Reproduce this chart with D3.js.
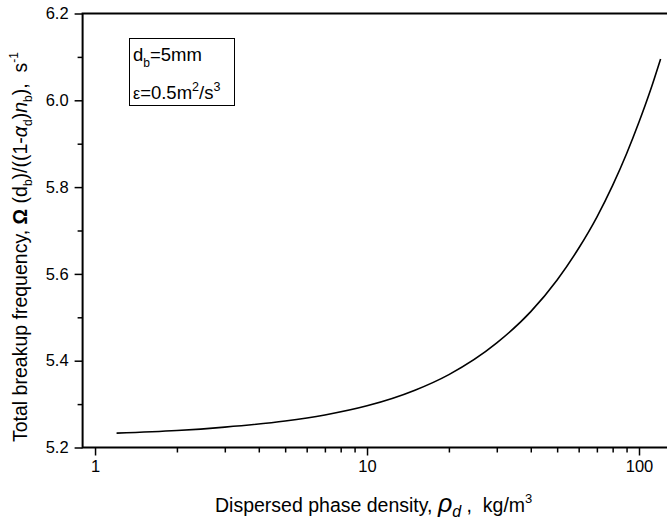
<!DOCTYPE html>
<html>
<head>
<meta charset="utf-8">
<script src="https://cdn.jsdelivr.net/npm/d3@7"></script>
<style>
  body { margin: 0; background: #fff; }
  text { font-family: "Liberation Sans", Arial, sans-serif; fill: #000; }
</style>
</head>
<body>
<script>
// values
var density = [1.2, 2, 3, 5, 7, 10, 15, 20, 30, 40, 50, 60, 70, 80, 90, 100, 110, 120];
var frequency = [5.233, 5.239, 5.247, 5.261, 5.275, 5.296, 5.332, 5.368, 5.441, 5.513,
                 5.586, 5.659, 5.731, 5.804, 5.877, 5.950, 6.022, 6.095];
var yTicks = [5.2, 5.4, 5.6, 5.8, 6.0, 6.2];
var yMinor = [5.3, 5.5, 5.7, 5.9, 6.1];
var xTicks = [1, 10, 100];
var xMinor = [2, 3, 4, 5, 6, 7, 8, 9, 20, 30, 40, 50, 60, 70, 80, 90];

var w = 667,
    h = 523;

var svg = d3.select("body")
    .append("svg")
    .attr("width", w)
    .attr("height", h);

var x = d3.scaleLog()
    .domain([0.9, 150])
    .range([82.6, 686.9]);

var y = d3.scaleLinear()
    .domain([5.2, 6.2])
    .range([447.5, 13.5]);

var data = density.map(function (d, i) {
    return { rho: d, f: frequency[i] };
});

// bottom axis, major + minor ticks
svg.append("g")
    .attr("transform", "translate(0," + y(5.2) + ")")
    .call(d3.axisBottom(x).tickValues(xMinor).tickSize(5).tickFormat(""))
    .call(function (g) { g.select(".domain").remove(); });

var xa = svg.append("g")
    .attr("transform", "translate(0," + y(5.2) + ")")
    .call(d3.axisBottom(x).tickValues(xTicks).tickSize(8).tickPadding(5)
        .tickFormat(d3.format("d")));
xa.select(".domain").remove();
xa.selectAll("text").attr("font-size", 16.5).attr("font-family", "Liberation Sans, Arial, sans-serif");

// left axis
svg.append("g")
    .attr("transform", "translate(" + x(0.9) + ",0)")
    .call(d3.axisLeft(y).tickValues(yMinor).tickSize(5).tickFormat(""))
    .call(function (g) { g.select(".domain").remove(); });

var ya = svg.append("g")
    .attr("transform", "translate(" + x(0.9) + ",0)")
    .call(d3.axisLeft(y).tickValues(yTicks).tickSize(8).tickPadding(6)
        .tickFormat(d3.format(".1f")));
ya.select(".domain").remove();
ya.selectAll("text").attr("font-size", 16.5).attr("font-family", "Liberation Sans, Arial, sans-serif");

svg.selectAll(".tick line").attr("stroke", "#000").attr("stroke-width", 1.5);

// frame lines (left, bottom, top)
svg.append("path")
    .attr("d", "M" + x(150) + "," + y(6.2) + "H" + x(0.9) + "V" + y(5.2) + "H" + x(150))
    .attr("fill", "none")
    .attr("stroke", "#000")
    .attr("stroke-width", 2);

// curve
var line = d3.line()
    .x(function (d) { return x(d.rho); })
    .y(function (d) { return y(d.f); })
    .curve(d3.curveMonotoneX);

svg.append("path")
    .datum(data)
    .attr("d", line)
    .attr("fill", "none")
    .attr("stroke", "#000")
    .attr("stroke-width", 1.6);

// legend box
svg.append("rect")
    .attr("x", 129.5).attr("y", 38.5)
    .attr("width", 105).attr("height", 67)
    .attr("fill", "none")
    .attr("stroke", "#000")
    .attr("stroke-width", 1);

var l1 = svg.append("text").attr("x", 133).attr("y", 61).attr("font-size", 18.5);
l1.append("tspan").text("d");
l1.append("tspan").attr("font-size", 12).attr("dy", 6).text("b");
l1.append("tspan").attr("dy", -6).text("=5mm");

var l2 = svg.append("text").attr("x", 133).attr("y", 99).attr("font-size", 18.5);
l2.append("tspan").attr("font-size", 16).text("ε");
l2.append("tspan").text("=0.5m");
l2.append("tspan").attr("font-size", 12.5).attr("dy", -8).text("2");
l2.append("tspan").attr("dy", 8).text("/s");
l2.append("tspan").attr("font-size", 12.5).attr("dy", -8).text("3");

// x title
var xt = svg.append("text").attr("x", 215).attr("y", 512).attr("font-size", 19.5);
xt.append("tspan").text("Dispersed phase density, ");
xt.append("tspan").attr("font-style", "italic").attr("font-size", 25).text("ρ");
xt.append("tspan").attr("font-style", "italic").attr("font-size", 16).attr("dy", 5).text("d");
xt.append("tspan").attr("dy", -5).text("\u00a0,\u00a0\u00a0kg/m");
xt.append("tspan").attr("font-size", 13).attr("dy", -9).text("3");

// y title
var yt = svg.append("text")
    .attr("transform", "translate(27,442) rotate(-90)")
    .attr("font-size", 19.5);
yt.append("tspan").text("Total breakup frequency, ");
yt.append("tspan").attr("font-weight", "bold").text("Ω");
yt.append("tspan").text(" (d");
yt.append("tspan").attr("font-size", 12).attr("dy", 5).text("b");
yt.append("tspan").attr("dy", -5).text(")/((1-");
yt.append("tspan").attr("font-style", "italic").text("α");
yt.append("tspan").attr("font-size", 12).attr("dy", 5).text("d");
yt.append("tspan").attr("dy", -5).text(")");
yt.append("tspan").attr("font-style", "italic").text("n");
yt.append("tspan").attr("font-size", 12).attr("dy", 5).text("b");
yt.append("tspan").attr("dy", -5).text("),\u00a0\u00a0s");
yt.append("tspan").attr("font-size", 12).attr("dy", -9).text("-1");
</script>
</body>
</html>
